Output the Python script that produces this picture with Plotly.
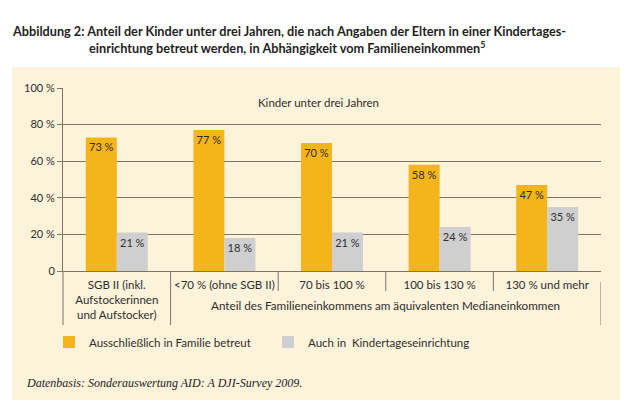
import plotly.graph_objects as go

# ---- data ----
categories = ["SGB II (inkl.<br>Aufstockerinnen<br>und Aufstocker)", "<70 % (ohne SGB II)",
              "70 bis 100 %", "100 bis 130 %", "130 % und mehr"]
familie = [73, 77, 70, 58, 47]
kita = [21, 18, 21, 24, 35]
series_names = ["Ausschließlich in Familie betreut", "Auch in  Kindertageseinrichtung"]
y_ticks = [0, 20, 40, 60, 80, 100]
y_ticktext = ["0", "20 %", "40 %", "60 %", "80 %", "100 %"]

ORANGE = "#F4B51C"
GRAY = "#CFCFCF"
CREAM = "#FDF2DA"
GRID = "#7c766a"
TEXT = "#2e2e2e"
FONT = "Lato"

W, H = 632, 408
L, R, T, B = 63, 31, 88, 137
pw, ph = W - L - R, H - T - B


def px(x):
    return (x - L) / pw


def py(y):
    return (H - B - y) / ph


xs = list(range(len(categories)))

fig = go.Figure()
fig.add_trace(go.Bar(x=xs, y=familie, name=series_names[0], marker=dict(color=ORANGE, line=dict(width=0)),
                     text=[f"{v} %" for v in familie], textposition="inside", insidetextanchor="end",
                     textangle=0, textfont=dict(family=FONT, size=11, color=TEXT), constraintext="none"))
fig.add_trace(go.Bar(x=xs, y=kita, name=series_names[1], marker=dict(color=GRAY, line=dict(width=0)),
                     text=[f"{v} %" for v in kita], textposition="inside", insidetextanchor="end",
                     textangle=0, textfont=dict(family=FONT, size=11, color=TEXT), constraintext="none"))

shapes = [
    dict(type="rect", xref="paper", yref="paper", x0=px(12), x1=px(620), y0=py(400), y1=py(67),
         fillcolor=CREAM, line=dict(width=0), layer="below"),
    # y-axis line extended below axis
    dict(type="line", xref="paper", yref="paper", x0=0, x1=0, y0=py(325), y1=0,
         line=dict(color=GRID, width=1)),
    # full divider after first category
    dict(type="line", xref="x", yref="paper", x0=0.5, x1=0.5, y0=py(325), y1=0,
         line=dict(color=GRID, width=1)),
    # right border (lower part)
    dict(type="line", xref="x", yref="paper", x0=4.5, x1=4.5, y0=py(325), y1=py(282),
         line=dict(color=GRID, width=1)),
]
for d in [1.5, 2.5, 3.5]:
    shapes.append(dict(type="line", xref="x", yref="paper", x0=d, x1=d, y0=py(291), y1=0,
                       line=dict(color=GRID, width=1)))

annotations = [
    dict(xref="paper", yref="paper", x=px(10), y=py(31), xanchor="left", yanchor="middle", showarrow=False,
         text="<b>Abbildung 2: Anteil der Kinder unter drei Jahren, die nach Angaben der Eltern in einer Kindertages-</b>",
         font=dict(family=FONT, size=12.7, color="#1e1e1e")),
    dict(xref="paper", yref="paper", x=px(87), y=py(48), xanchor="left", yanchor="middle", showarrow=False,
         text="<b>einrichtung betreut werden, in Abhängigkeit vom Familieneinkommen<sup>5</sup></b>",
         font=dict(family=FONT, size=12.7, color="#1e1e1e")),
    dict(xref="x", yref="y", x=1.87, y=(H - B - 102) / ph * 100, xanchor="center", yanchor="middle",
         showarrow=False, text="Kinder unter drei Jahren", font=dict(family=FONT, size=11.5, color=TEXT)),
    dict(xref="x", yref="paper", x=2.5, y=py(305), xanchor="center", yanchor="middle", showarrow=False,
         text="Anteil des Familieneinkommens am äquivalenten Medianeinkommen",
         font=dict(family=FONT, size=11.7, color=TEXT)),
    dict(xref="paper", yref="paper", x=px(24), y=py(383), xanchor="left", yanchor="middle", showarrow=False,
         text="<i>Datenbasis: Sonderauswertung AID: A DJI-Survey 2009.</i>",
         font=dict(family="Liberation Serif", size=12, color="#1e1e1e")),
]

fig.update_layout(
    width=W, height=H,
    margin=dict(l=L, r=R, t=T, b=B, pad=0),
    paper_bgcolor="white", plot_bgcolor="rgba(0,0,0,0)",
    barmode="group", bargap=0.424, bargroupgap=0,
    font=dict(family=FONT, size=11, color=TEXT),
    showlegend=True,
    legend=dict(orientation="h", x=px(49), xanchor="left", y=py(342), yanchor="middle",
                entrywidth=174, entrywidthmode="pixels", bgcolor="rgba(0,0,0,0)",
                font=dict(family=FONT, size=11.5, color=TEXT), traceorder="normal"),
    shapes=shapes, annotations=annotations,
)
fig.update_xaxes(range=[-0.5, 4.5], tickvals=xs, ticktext=categories, showgrid=False, zeroline=False,
                 showline=True, linecolor=GRID, linewidth=1, ticks="", ticklabelstandoff=3,
                 tickfont=dict(family=FONT, size=11.5, color=TEXT), fixedrange=True)
fig.update_yaxes(range=[0, 100], tickvals=y_ticks, ticktext=y_ticktext, showgrid=True, gridcolor=GRID,
                 gridwidth=1, zeroline=False, showline=True, linecolor=GRID, linewidth=1,
                 ticks="outside", ticklen=5, tickcolor=GRID, tickfont=dict(family=FONT, size=11, color=TEXT),
                 fixedrange=True)

fig.write_html("out.html", config={"displayModeBar": False},
               post_script="document.body.style.margin='0';")
